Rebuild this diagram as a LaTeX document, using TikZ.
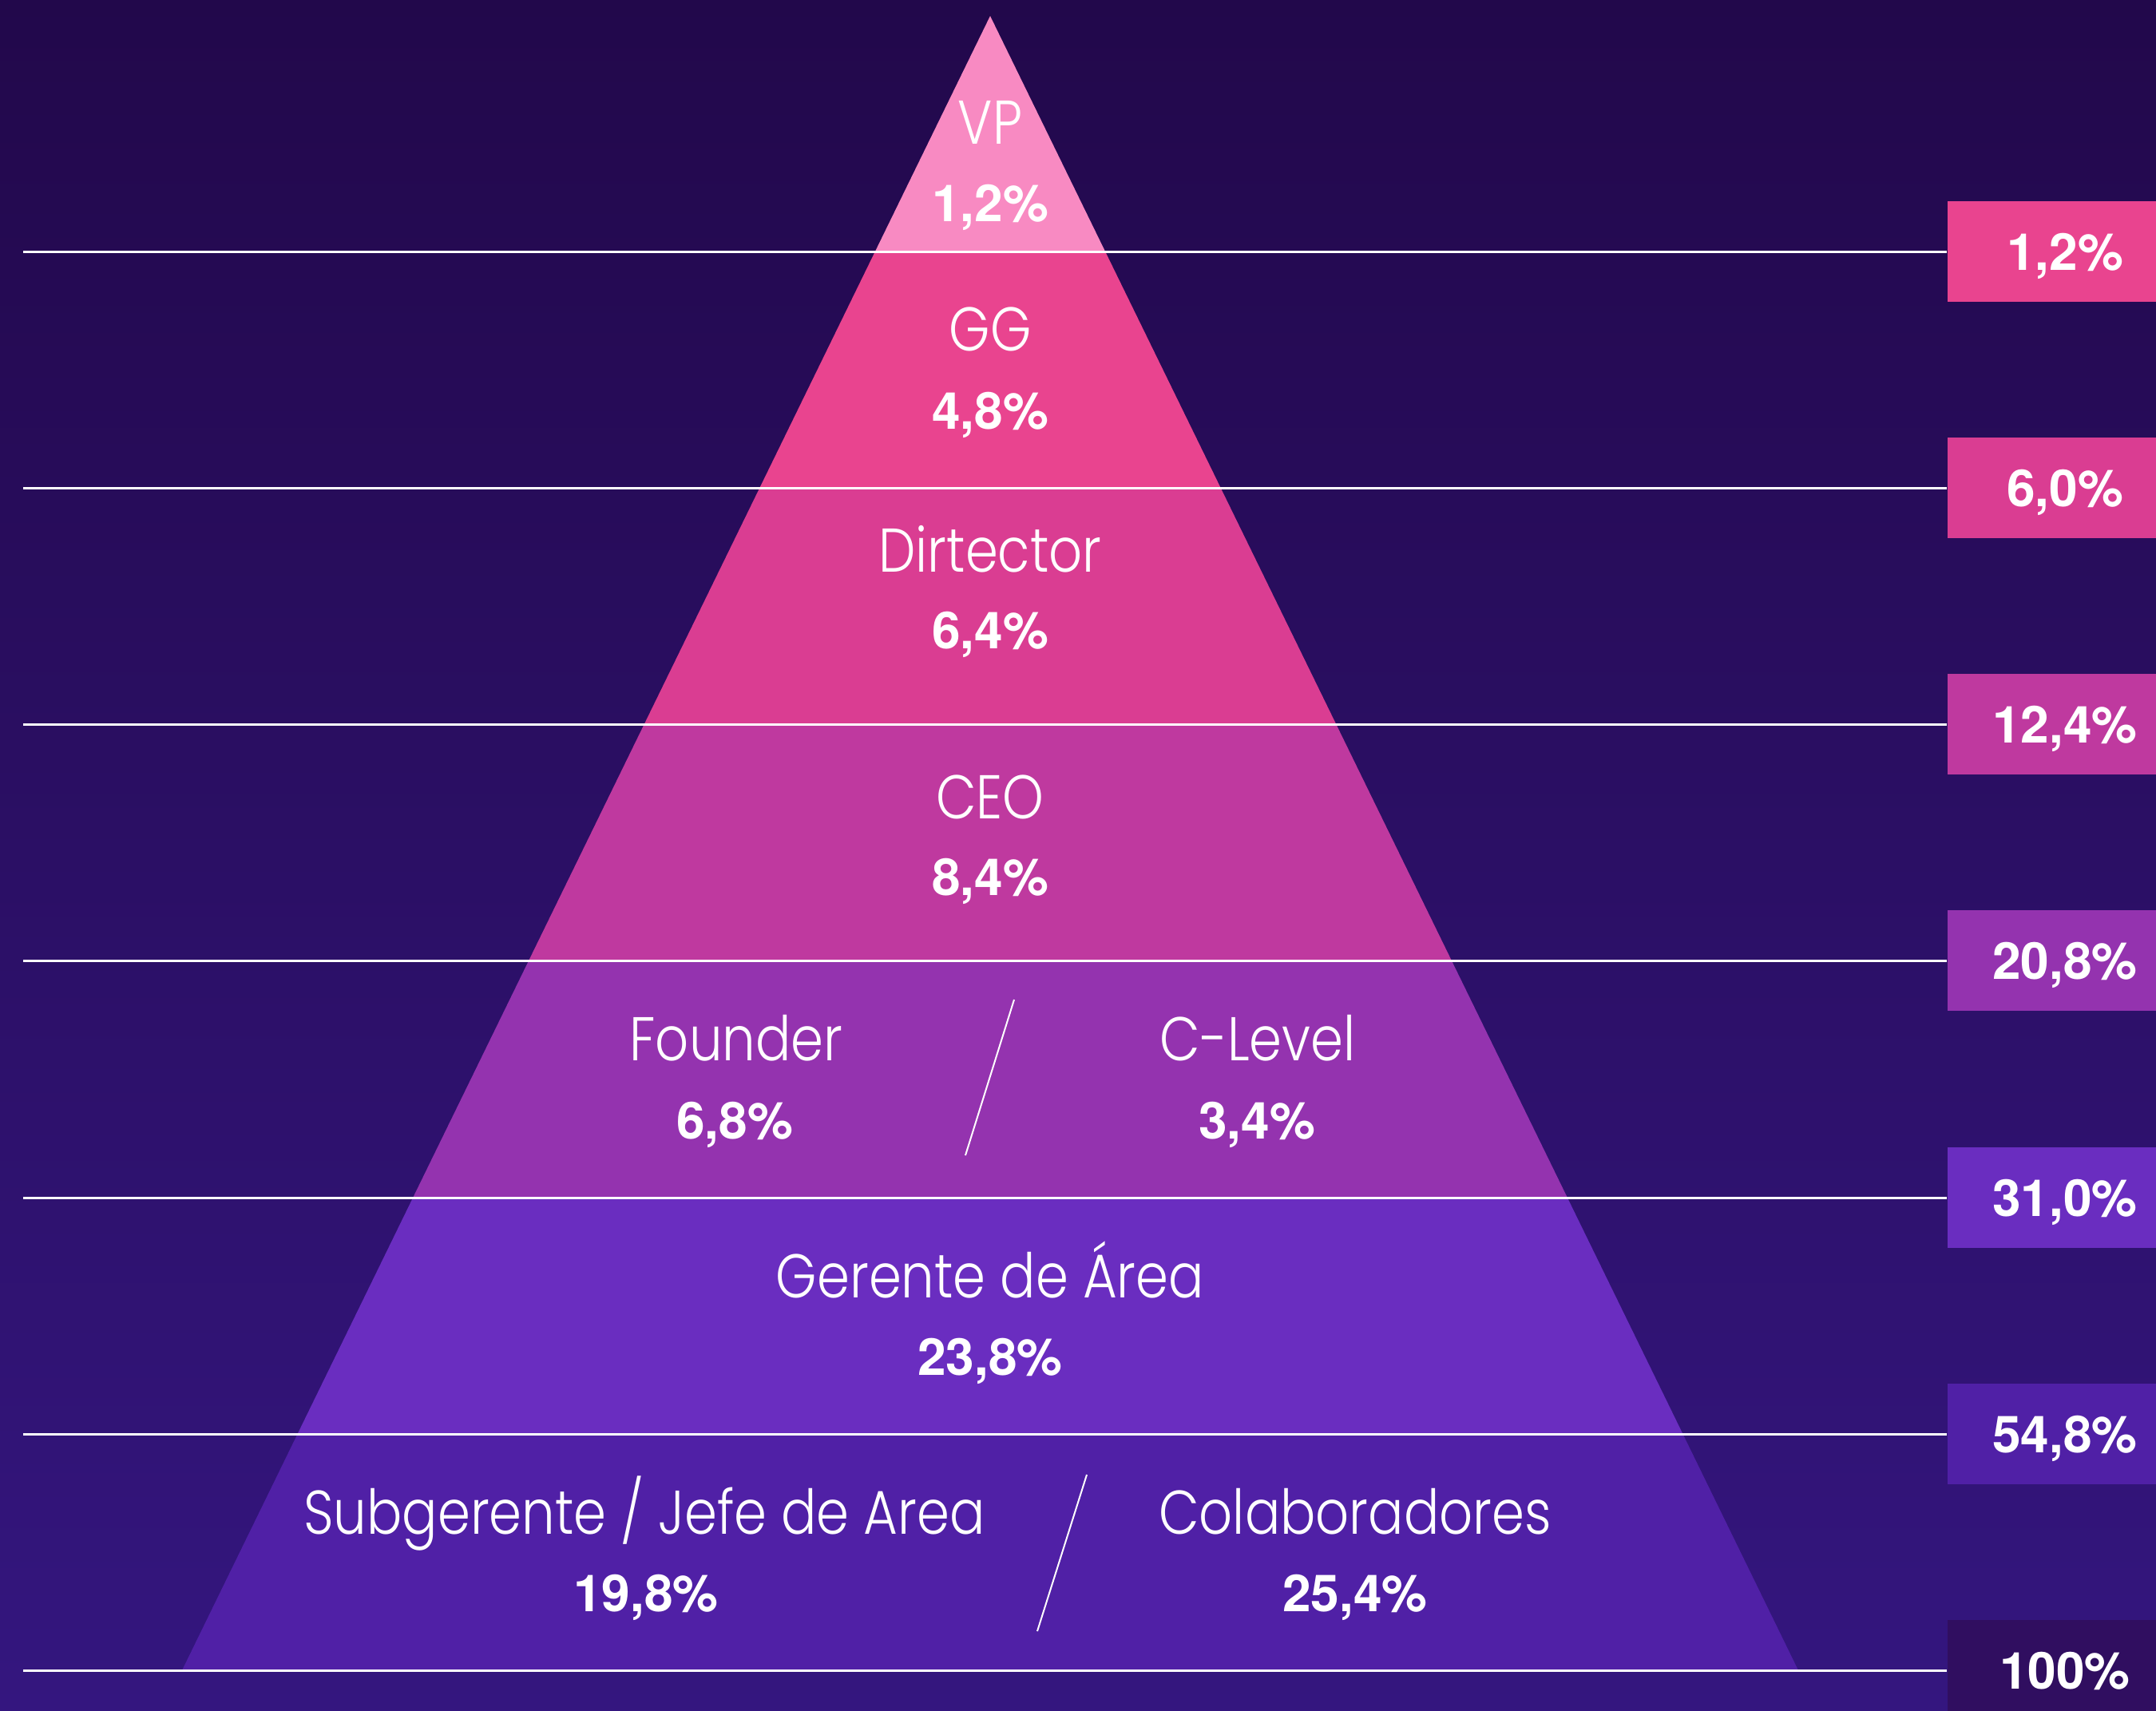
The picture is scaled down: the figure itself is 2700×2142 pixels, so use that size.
\documentclass[tikz,border=0pt]{standalone}
\usepackage{fontspec}
\newfontfamily\lblfont{Poppins}[UprightFont=* Light,FakeStretch=0.85]
\newfontfamily\numfont{TeX Gyre Heros}
\definecolor{bgtop}{HTML}{22084B}
\definecolor{bgmid}{HTML}{2D1070}
\definecolor{bgbot}{HTML}{34167F}
\definecolor{cVP}{HTML}{F88AC2}
\definecolor{cGG}{HTML}{E9448F}
\definecolor{cDir}{HTML}{DA3D92}
\definecolor{cCEO}{HTML}{BF399F}
\definecolor{cFou}{HTML}{9433AF}
\definecolor{cGer}{HTML}{6A2DC0}
\definecolor{cSub}{HTML}{5020A6}
\definecolor{cAll}{HTML}{300E60}
\begin{document}
\begin{tikzpicture}[x=0.3pt,y={(0pt,-0.3pt)},
  lbl/.style={text=white,inner sep=0pt,anchor=base,font=\lblfont\fontsize{23.2pt}{28pt}\selectfont},
  pct/.style={text=white,inner sep=0pt,anchor=base,font=\numfont\bfseries\fontsize{19.2pt}{23pt}\selectfont},
  pbox/.style={rectangle,inner sep=0pt,minimum width=88.2pt,minimum height=37.8pt,text height=14pt,text depth=0pt,text=white,font=\numfont\bfseries\fontsize{19.2pt}{23pt}\selectfont},
  sepline/.style={draw=white,line width=0.9pt},
  slashline/.style={draw=white,line width=0.6pt}]
\useasboundingbox (0,0) rectangle (2700,2142);
\shade[top color=bgtop,middle color=bgmid,bottom color=bgbot] (0,0) rectangle (2700,2142);
% pyramid tiers
\begin{scope}
\clip (1240,20) -- (2252,2092) -- (228,2092) -- cycle;
\fill[cVP] (0,0) rectangle (2700,315);
\fill[cGG] (0,315) rectangle (2700,611);
\fill[cDir] (0,611) rectangle (2700,907);
\fill[cCEO] (0,907) rectangle (2700,1203);
\fill[cFou] (0,1203) rectangle (2700,1500);
\fill[cGer] (0,1500) rectangle (2700,1796);
\fill[cSub] (0,1796) rectangle (2700,2092);
\end{scope}
% right boxes
\node[pbox,fill=cGG] (b1) at (2586,315) {1,2\%};
\node[pbox,fill=cDir] (b2) at (2586,611) {6,0\%};
\node[pbox,fill=cCEO] (b3) at (2586,907) {12,4\%};
\node[pbox,fill=cFou] (b4) at (2586,1203) {20,8\%};
\node[pbox,fill=cGer] (b5) at (2586,1500) {31,0\%};
\node[pbox,fill=cSub] (b6) at (2586,1796) {54,8\%};
\node[pbox,fill=cAll] (b7) at (2586,2092) {100\%};
% separator lines
\coordinate (l1) at (29,315);
\coordinate (l2) at (29,611);
\coordinate (l3) at (29,907);
\coordinate (l4) at (29,1203);
\coordinate (l5) at (29,1500);
\coordinate (l6) at (29,1796);
\coordinate (l7) at (29,2092);
\draw[sepline] (l1) -- (b1.west);
\draw[sepline] (l2) -- (b2.west);
\draw[sepline] (l3) -- (b3.west);
\draw[sepline] (l4) -- (b4.west);
\draw[sepline] (l5) -- (b5.west);
\draw[sepline] (l6) -- (b6.west);
\draw[sepline] (l7) -- (b7.west);
% labels
\node[lbl] (vp) at (1240,180) {VP};
\node[pct] (vpp) at (1240,277) {1,2\%};
\node[lbl] (gg) at (1240,439) {GG};
\node[pct] (ggp) at (1240,537) {4,8\%};
\node[lbl] (dir) at (1240,716) {Dirtector};
\node[pct] (dirp) at (1240,812) {6,4\%};
\node[lbl] (ceo) at (1240,1025) {CEO};
\node[pct] (ceop) at (1240,1121) {8,4\%};
\node[lbl] (fou) at (922,1328) {Founder};
\node[pct] (foup) at (920,1426) {6,8\%};
\node[lbl] (clv) at (1575,1328) {C-Level};
\node[pct] (clvp) at (1574,1426) {3,4\%};
\node[lbl] (ger) at (1240,1625) {Gerente de Área};
\node[pct] (gerp) at (1240,1722) {23,8\%};
\node[lbl] (sub) at (807,1921) {Subgerente / Jefe de Area};
\node[pct] (subp) at (809,2018) {19,8\%};
\node[lbl] (col) at (1697,1921) {Colaboradores};
\node[pct] (colp) at (1697,2018) {25,4\%};
% slashes
\coordinate (s1t) at (1270,1252);
\coordinate (s1b) at (1209,1447);
\coordinate (s2t) at (1361,1847);
\coordinate (s2b) at (1299,2043);
\draw[slashline] (s1t) -- (s1b);
\draw[slashline] (s2t) -- (s2b);
\end{tikzpicture}
\end{document}
